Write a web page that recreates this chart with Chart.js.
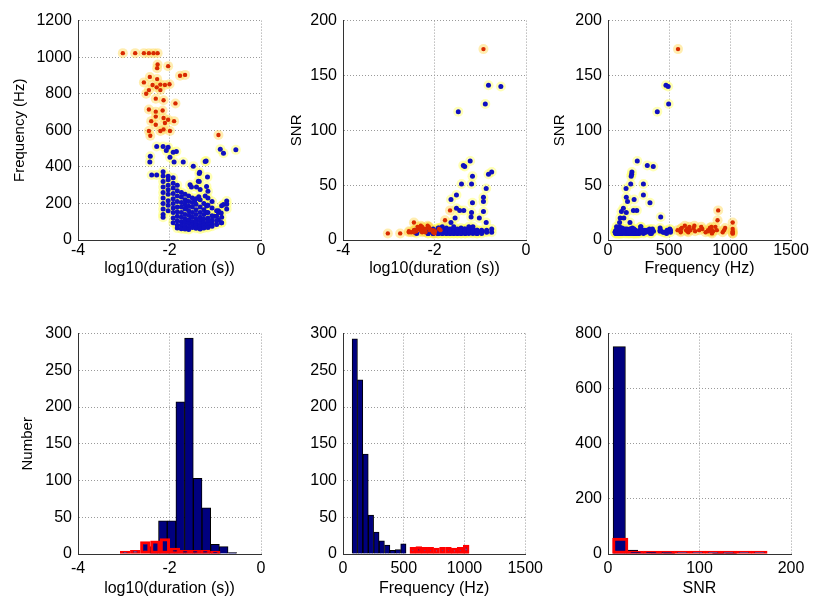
<!DOCTYPE html>
<html>
<head>
<meta charset="utf-8">
<script src="https://cdn.jsdelivr.net/npm/chart.js@4"></script>
<style>
  body { margin: 0; background: #fff; }
  #fig { position: relative; width: 815px; height: 604px; overflow: hidden; background: #fff; }
  #fig canvas { position: absolute; }
</style>
</head>
<body>
<div id="fig">
  <canvas id="durFreq" width="275" height="285" style="left:8px;top:5px"></canvas>
  <canvas id="durSnr" width="275" height="285" style="left:273px;top:5px"></canvas>
  <canvas id="freqSnr" width="275" height="285" style="left:538px;top:5px"></canvas>
  <canvas id="durHist" width="275" height="286" style="left:8px;top:318px"></canvas>
  <canvas id="freqHist" width="275" height="286" style="left:273px;top:318px"></canvas>
  <canvas id="snrHist" width="275" height="286" style="left:538px;top:318px"></canvas>
</div>
<script>
// events: [log10(duration), frequency (Hz), SNR]
const redEvents = [
  [-3.02, 1022, 6], [-2.75, 1022, 6], [-2.56, 1022, 7], [-2.45, 1022, 16], [-2.35, 1022, 10],
  [-2.26, 1022, 8], [-2.03, 951, 9], [-2.26, 960, 11], [-2.27, 940, 7], [-1.77, 898, 18],
  [-1.66, 903, 27], [-2.56, 862, 8], [-2.43, 892, 9], [-2.37, 848, 12], [-2.2, 850, 7],
  [-2.1, 848, 10], [-2.0, 852, 6], [-2.51, 800, 7], [-2.45, 820, 9], [-2.28, 835, 11],
  [-2.2, 820, 8], [-2.3, 773, 10], [-2.13, 764, 12], [-1.87, 747, 9], [-2.45, 714, 8],
  [-2.3, 702, 11], [-2.15, 708, 13], [-2.3, 675, 9], [-2.13, 667, 12], [-2.03, 658, 7],
  [-1.9, 650, 10], [-2.4, 650, 8], [-2.3, 630, 13], [-2.1, 640, 9], [-2.45, 596, 7],
  [-2.2, 596, 10], [-2.13, 605, 11], [-1.99, 596, 8], [-2.42, 570, 9], [-0.93, 574, 174],
  [-2.27, 880, 12]
];

const blueEvents = [
  // high SNR
  [-1.48, 404, 117], [-0.82, 475, 141], [-0.55, 493, 140], [-0.89, 497, 124], [-1.22, 240, 72],
  [-1.37, 322, 68], [-1.34, 371, 67], [-0.82, 194, 60], [-0.75, 196, 62], [-1.17, 190, 58],
  [-1.41, 290, 51], [-1.19, 186, 51], [-0.87, 148, 47], [-1.52, 290, 41], [-1.64, 214, 37],
  [-0.93, 150, 39], [-0.93, 160, 35], [-1.17, 344, 34], [-1.52, 126, 29], [-1.45, 208, 27],
  [-1.36, 236, 27], [-1.19, 150, 25], [-0.93, 110, 26], [-1.2, 432, 21], [-1.02, 130, 20],
  [-1.55, 100, 20], [-0.87, 95, 16], [-1.64, 180, 16],
  // sparse upper
  [-2.28, 512, 9], [-2.14, 512, 7], [-2.03, 507, 10], [-2.07, 489, 8], [-1.92, 480, 6],
  [-1.85, 484, 9], [-1.99, 452, 7], [-1.9, 427, 11], [-1.7, 427, 8], [-1.22, 430, 9],
  [-2.39, 356, 6], [-2.28, 356, 8], [-2.42, 458, 7], [-2.43, 427, 9], [-1.35, 364, 10],
  [-1.35, 320, 8], [-1.19, 293, 7], [-1.55, 302, 9], [-1.16, 267, 12],
  // dense low-SNR region
  [-2.14, 373, 8], [-2.14, 350, 7], [-2.14, 320, 9], [-2.14, 290, 6], [-2.14, 260, 8],
  [-2.14, 230, 7], [-2.14, 200, 10], [-2.14, 170, 6], [-2.14, 140, 8], [-2.14, 124, 7],
  [-2.03, 348, 6], [-2.03, 330, 9], [-2.03, 300, 7], [-2.03, 275, 8], [-2.03, 250, 6],
  [-2.03, 215, 9], [-2.03, 190, 7], [-2.03, 160, 8],
  [-1.92, 340, 10], [-1.92, 310, 7], [-1.92, 285, 9], [-1.92, 255, 6], [-1.92, 225, 8],
  [-1.92, 200, 11], [-1.92, 175, 7], [-1.92, 150, 9], [-1.92, 120, 6], [-1.92, 95, 8],
  [-1.83, 300, 8], [-1.83, 270, 12], [-1.83, 240, 7], [-1.83, 210, 9], [-1.83, 180, 6],
  [-1.83, 155, 10], [-1.83, 130, 7], [-1.83, 105, 8], [-1.83, 80, 9], [-1.83, 65, 6],
  [-1.74, 260, 9], [-1.74, 235, 6], [-1.74, 205, 8], [-1.74, 180, 10], [-1.74, 150, 7],
  [-1.74, 125, 9], [-1.74, 100, 6], [-1.74, 80, 11], [-1.74, 62, 7],
  [-1.66, 250, 7], [-1.66, 220, 9], [-1.66, 195, 6], [-1.66, 170, 8], [-1.66, 140, 10],
  [-1.66, 115, 7], [-1.66, 95, 9], [-1.66, 75, 6], [-1.66, 60, 8],
  [-1.58, 240, 8], [-1.58, 210, 6], [-1.58, 185, 10], [-1.58, 160, 7], [-1.58, 135, 9],
  [-1.58, 110, 6], [-1.58, 90, 8], [-1.58, 70, 12], [-1.58, 58, 7],
  [-1.5, 230, 6], [-1.5, 205, 9], [-1.5, 180, 7], [-1.5, 150, 8], [-1.5, 125, 10],
  [-1.5, 100, 6], [-1.5, 85, 9], [-1.5, 68, 7],
  [-1.42, 225, 9], [-1.42, 195, 7], [-1.42, 165, 6], [-1.42, 140, 8], [-1.42, 115, 11],
  [-1.42, 95, 7], [-1.42, 78, 9], [-1.42, 64, 6],
  [-1.33, 276, 8], [-1.33, 220, 6], [-1.33, 180, 9], [-1.33, 150, 7], [-1.33, 125, 8],
  [-1.33, 105, 10], [-1.33, 88, 6], [-1.33, 72, 9], [-1.33, 60, 7],
  [-1.25, 200, 7], [-1.25, 165, 9], [-1.25, 140, 6], [-1.25, 115, 8], [-1.25, 95, 12],
  [-1.25, 80, 7], [-1.25, 66, 9],
  [-1.16, 230, 7], [-1.16, 190, 8], [-1.16, 150, 6], [-1.16, 120, 9], [-1.16, 100, 7],
  [-1.16, 82, 10], [-1.16, 68, 8],
  [-1.07, 210, 6], [-1.07, 175, 9], [-1.07, 133, 7], [-1.07, 110, 8], [-1.07, 90, 6], [-1.07, 75, 9],
  [-0.97, 160, 8], [-0.97, 130, 7], [-0.97, 105, 9], [-0.97, 85, 6],
  [-0.86, 187, 9], [-0.86, 124, 7], [-0.86, 95, 8],
  [-0.75, 213, 10], [-0.75, 170, 7]
];

// histogram bins (centres) and counts
const durCentersBlue = [-2.335, -2.145, -1.955, -1.765, -1.575, -1.385, -1.195, -1.005, -0.815, -0.625];
const durCountsBlue = [10, 45, 45, 207, 294, 103, 63, 13, 10, 2];
const durCentersRed = [-2.97, -2.75, -2.53, -2.31, -2.10, -1.88, -1.66, -1.44, -1.22, -1.00];
const durCountsRed = [4, 5, 17, 18, 21, 8, 5, 5, 5, 4];

const freqCentersBlue = [97, 141, 186, 230, 275, 319, 364, 408, 452, 497];
const freqCountsBlue = [293, 237, 136, 53, 30, 18, 12, 5, 6, 14];
const freqCentersRed = [575, 624, 673, 722, 770, 819, 868, 916, 965, 1014];
const freqCountsRed = [9, 10, 9, 9, 8, 9, 9, 8, 9, 12];

const snrCentersBlue = [12.3, 25.8, 39.4, 52.9, 66.5, 80.0, 93.6, 107.1, 120.7, 134.2];
const snrCountsBlue = [753, 14, 8, 6, 5, 0, 0, 0, 1, 3];
const snrCentersRed = [13.4, 30.3, 47.2, 64.1, 81.0, 97.9, 114.8, 131.7, 148.6, 165.5];
const snrCountsRed = [58, 3, 0, 0, 0, 0, 0, 0, 0, 2];

Chart.defaults.font.family = '"Liberation Sans", Arial, sans-serif';
Chart.defaults.font.size = 16;
Chart.defaults.color = '#000';
Chart.defaults.animation = false;

function axis(min, max, step, title, pad, tickPad, size, isX) {
  return {
    type: 'linear', min: min, max: max, offset: false,
    ticks: { stepSize: step, padding: tickPad, autoSkip: false, maxRotation: 0, callback: v => String(v) },
    grid: { color: '#9a9a9a', lineWidth: 1, drawTicks: false, offset: false },
    border: { display: true, color: '#333', width: 1, dash: [1, 2] },
    title: { display: !!title, text: title, padding: pad, font: { size: isX ? 16 : 15 } },
    afterFit: s => { if (isX) s.height = size; else s.width = size; }
  };
}

const baseOpts = {
  responsive: false,
  plugins: { legend: { display: false }, tooltip: { enabled: false } },
  layout: { padding: { top: 10, right: 22, left: 0, bottom: 0 } }
};

function pts(events, xi, yi) {
  return events.map(e => ({ x: e[xi], y: e[yi] }));
}

function scatterChart(id, xi, yi, xAxis, yAxis) {
  const blue = pts(blueEvents, xi, yi);
  const red = pts(redEvents, xi, yi);
  new Chart(document.getElementById(id), {
    type: 'scatter',
    data: {
      datasets: [
        { data: red, pointRadius: 2.2, pointBorderWidth: 0, backgroundColor: '#d82a00', order: 1 },
        { data: blue, pointRadius: 2.5, pointBorderWidth: 0, backgroundColor: '#1010c0', order: 2 },
        { data: red, pointRadius: 5, pointBorderWidth: 0, backgroundColor: 'rgba(255,215,80,0.45)', order: 3 },
        { data: blue, pointRadius: 5, pointBorderWidth: 0, backgroundColor: 'rgba(255,255,90,0.45)', order: 4 }
      ]
    },
    options: Object.assign({}, baseOpts, { scales: { x: xAxis, y: yAxis } })
  });
}

function bins(centers, counts) {
  return centers.map((c, i) => ({ x: c, y: counts[i] }));
}

function histChart(id, blue, red, xAxis, yAxis) {
  const xr = Object.assign({}, xAxis, { display: false, afterFit: undefined });
  new Chart(document.getElementById(id), {
    type: 'bar',
    data: {
      datasets: [
        { data: blue, xAxisID: 'x', backgroundColor: '#00007f', borderColor: '#000', borderWidth: 1,
          borderSkipped: 'start', order: 2 },
        { data: red, xAxisID: 'xr', backgroundColor: '#00007f', borderColor: '#ff0000', borderWidth: 3,
          borderSkipped: false, minBarLength: 3, order: 1 }
      ]
    },
    options: Object.assign({}, baseOpts, {
      datasets: { bar: { grouped: false, barPercentage: 1, categoryPercentage: 1 } },
      scales: { x: xAxis, xr: xr, y: yAxis }
    })
  });
}

scatterChart('durFreq', 0, 1,
  axis(-4, 0, 2, 'log10(duration (s))', { bottom: 12 }, 1, 50, true),
  axis(0, 1200, 200, 'Frequency (Hz)', { top: 3 }, 6, 70, false));
scatterChart('durSnr', 0, 2,
  axis(-4, 0, 2, 'log10(duration (s))', { bottom: 12 }, 1, 50, true),
  axis(0, 200, 50, 'SNR', { top: 15 }, 6, 70, false));
scatterChart('freqSnr', 1, 2,
  axis(0, 1500, 500, 'Frequency (Hz)', { bottom: 12 }, 1, 50, true),
  axis(0, 200, 50, 'SNR', { top: 13 }, 6, 70, false));

histChart('durHist', bins(durCentersBlue, durCountsBlue), bins(durCentersRed, durCountsRed),
  axis(-4, 0, 2, 'log10(duration (s))', { bottom: 6 }, 5, 50, true),
  axis(0, 300, 50, 'Number', { top: 11 }, 6, 70, false));
histChart('freqHist', bins(freqCentersBlue, freqCountsBlue), bins(freqCentersRed, freqCountsRed),
  axis(0, 1500, 500, 'Frequency (Hz)', { bottom: 6 }, 5, 50, true),
  axis(0, 300, 50, '', { top: 0 }, 6, 70, false));
histChart('snrHist', bins(snrCentersBlue, snrCountsBlue), bins(snrCentersRed, snrCountsRed),
  axis(0, 200, 100, 'SNR', { bottom: 6 }, 5, 50, true),
  axis(0, 800, 200, '', { top: 0 }, 6, 70, false));
</script>
</body>
</html>
